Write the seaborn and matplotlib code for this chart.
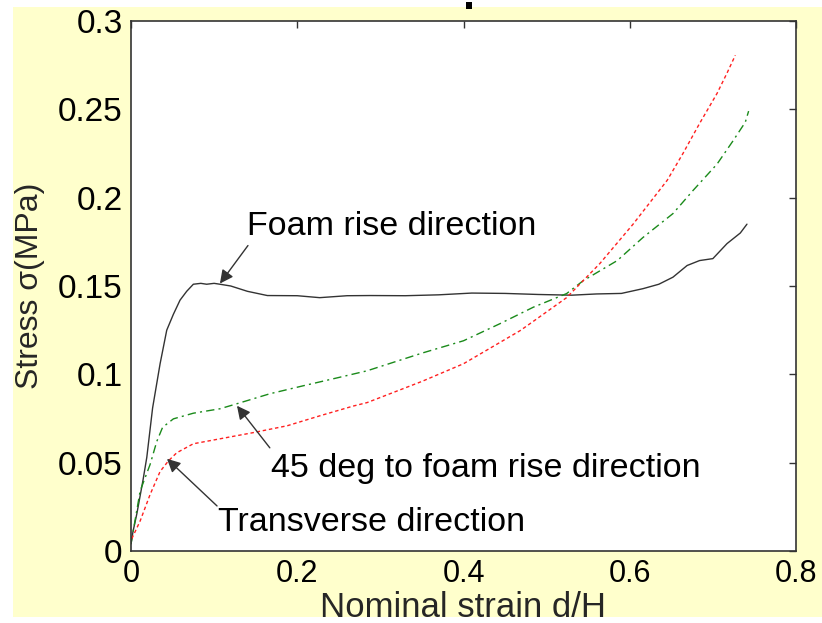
import matplotlib
matplotlib.use("Agg")
import matplotlib.pyplot as plt
from matplotlib.patches import Rectangle
import seaborn as sns
import pandas as pd

# ---- data ----
foam_x = [0.0, 0.0024, 0.007, 0.0144, 0.019, 0.026, 0.035, 0.043, 0.051, 0.059, 0.067, 0.075, 0.084,
          0.091, 0.100, 0.107, 0.120, 0.140, 0.164, 0.20, 0.227, 0.26, 0.288, 0.33, 0.37, 0.41, 0.45,
          0.49, 0.53, 0.56, 0.59, 0.616, 0.635, 0.652, 0.669, 0.684, 0.700, 0.717, 0.733, 0.741]
foam_y = [0.004, 0.011, 0.021, 0.040, 0.053, 0.081, 0.106, 0.125, 0.134, 0.142, 0.147, 0.151, 0.1515,
          0.151, 0.1515, 0.151, 0.150, 0.147, 0.1446, 0.1445, 0.1434, 0.1445, 0.1446, 0.1445, 0.145,
          0.146, 0.1458, 0.1452, 0.1448, 0.1455, 0.1458, 0.1485, 0.151, 0.155, 0.1616, 0.1644, 0.1655,
          0.174, 0.180, 0.185]

deg45_x = [0.0, 0.011, 0.023, 0.031, 0.038, 0.051, 0.075, 0.107, 0.127, 0.167, 0.207, 0.248, 0.284,
           0.35, 0.40, 0.444, 0.484, 0.524, 0.544, 0.585, 0.616, 0.652, 0.676, 0.705, 0.724, 0.739, 0.743]
deg45_y = [0.004, 0.034, 0.049, 0.062, 0.070, 0.0748, 0.078, 0.0805, 0.0833, 0.089, 0.0935, 0.098, 0.102,
           0.112, 0.119, 0.1287, 0.138, 0.1457, 0.153, 0.1644, 0.1775, 0.191, 0.204, 0.219, 0.232, 0.2427, 0.249]

trans_x = [0.001, 0.011, 0.023, 0.035, 0.045, 0.055, 0.075, 0.107, 0.147, 0.188, 0.227, 0.267, 0.284,
           0.35, 0.40, 0.468, 0.484, 0.524, 0.564, 0.604, 0.645, 0.664, 0.684, 0.705, 0.717, 0.727]
trans_y = [0.007, 0.017, 0.032, 0.045, 0.051, 0.0556, 0.0607, 0.0635, 0.067, 0.0709, 0.0765, 0.082, 0.084,
           0.096, 0.106, 0.1247, 0.130, 0.1434, 0.1627, 0.185, 0.2098, 0.225, 0.242, 0.259, 0.2705, 0.2806]

x_ticks = [0, 0.2, 0.4, 0.6, 0.8]
x_tick_labels = ["0", "0.2", "0.4", "0.6", "0.8"]
y_ticks = [0, 0.05, 0.1, 0.15, 0.2, 0.25, 0.3]
y_tick_labels = ["0", "0.05", "0.1", "0.15", "0.2", "0.25", "0.3"]

labels = ["Foam rise direction", "45 deg to foam rise direction", "Transverse direction"]
label_pos = [(0.1395, 0.1838), (0.1685, 0.0467), (0.105, 0.0160)]
arrow_tails = [(0.1407, 0.1729), (0.167, 0.0584), (0.1035, 0.0255)]
arrow_tips = [(0.107, 0.1514), (0.1275, 0.0822), (0.0433, 0.0522)]
x_label = "Nominal strain d/H"
y_label = "Stress \u03c3(MPa)"

# ---- figure ----
sns.set_theme(style="white")
plt.rcParams['font.family'] = ['Liberation Sans', 'DejaVu Sans']

fig = plt.figure(figsize=(8.22, 6.23), dpi=100, facecolor="white")
fig.patches.append(Rectangle((13/822, 6/623), 1 - 13/822, 1 - 13/623,
                             transform=fig.transFigure, facecolor="#FFFFCC",
                             edgecolor="none", zorder=-10))
fig.patches.append(Rectangle((466/822, 1 - 9/623), 6/822, 7/623,
                             transform=fig.transFigure, facecolor="black",
                             edgecolor="none", zorder=5))

ax = fig.add_axes([131/822, 1 - 551/623, (796 - 131)/822, (551 - 21)/623])
ax.set_facecolor("white")

df_f = pd.DataFrame({"x": foam_x, "y": foam_y})
df_d = pd.DataFrame({"x": deg45_x, "y": deg45_y})
df_t = pd.DataFrame({"x": trans_x, "y": trans_y})

sns.lineplot(data=df_f, x="x", y="y", ax=ax, color="#333333", lw=1.0,
             sort=False, estimator=None)
sns.lineplot(data=df_d, x="x", y="y", ax=ax, color="#1a8a1a", lw=1.0,
             sort=False, estimator=None, linestyle=(0, (6, 3, 1.5, 3)))
sns.lineplot(data=df_t, x="x", y="y", ax=ax, color="#ff2020", lw=1.0,
             sort=False, estimator=None, linestyle=(0, (2.5, 2)))

ax.set_xlim(0, 0.8)
ax.set_ylim(0, 0.3)
ax.set_xticks(x_ticks)
ax.set_xticklabels(x_tick_labels, fontsize=22)
ax.set_yticks(y_ticks)
ax.set_yticklabels(y_tick_labels, fontsize=24)
ax.tick_params(axis="both", direction="in", length=5, width=1, color="#333333",
               top=True, right=True, labelcolor="black", pad=6)
for s in ax.spines.values():
    s.set_visible(True)
    s.set_color("#333333")
    s.set_linewidth(1.2)

ax.set_xlabel(x_label, fontsize=25, labelpad=1)
ax.set_ylabel(y_label, fontsize=23, labelpad=9)

arrow = dict(arrowstyle="-|>", color="#333333", lw=1.0, mutation_scale=20,
             shrinkA=0, shrinkB=0)
for lab, pos, tail, tip in zip(labels, label_pos, arrow_tails, arrow_tips):
    ax.text(pos[0], pos[1], lab, fontsize=24.5, ha="left", va="center", color="black")
    ax.annotate("", xy=tip, xytext=tail, arrowprops=arrow)

fig.savefig("out.png", dpi=100, facecolor="white")
